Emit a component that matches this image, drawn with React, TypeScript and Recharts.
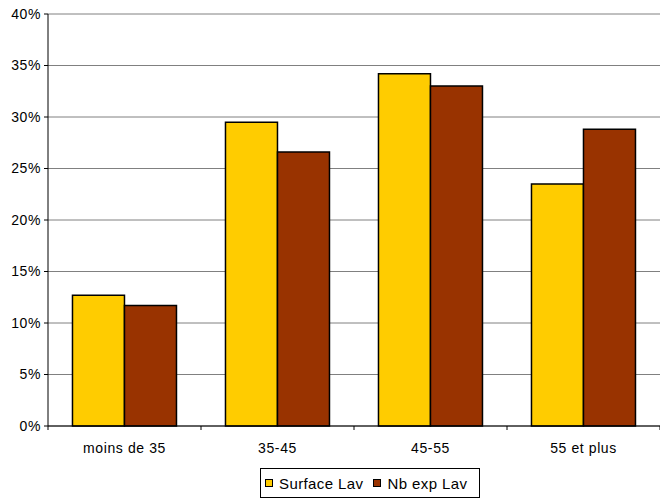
import React from "react";
import { BarChart, Bar, XAxis, YAxis, CartesianGrid, Legend } from "recharts";

const categories = ["moins de 35", "35-45", "45-55", "55 et plus"];
const surfaceLav = [12.7, 29.5, 34.2, 23.5];
const nbExpLav = [11.7, 26.6, 33.0, 28.8];
const yTicks = [0, 5, 10, 15, 20, 25, 30, 35, 40];

const data = categories.map((c, i) => ({
  name: c,
  surface: surfaceLav[i],
  nb: nbExpLav[i],
}));

const FONT = "'Liberation Sans', Arial, sans-serif";

const XTick = (props: any) => {
  const { x, y, payload, index } = props;
  const off = payload.offset || 0;
  return (
    <g>
      {index === 0 && (
        <line x1={x - off} x2={x - off} y1={y} y2={y + 4} stroke="#000" />
      )}
      <line x1={x + off} x2={x + off} y1={y} y2={y + 4} stroke="#000" />
      <text
        x={x}
        y={y + 27}
        textAnchor="middle"
        fontSize={14}
        letterSpacing={0.6}
        fontFamily={FONT}
        fill="#000"
      >
        {payload.value}
      </text>
    </g>
  );
};

const Marker = ({ color }: { color: string }) => (
  <span
    style={{
      width: 6,
      height: 6,
      background: color,
      border: "1.5px solid #000",
      display: "inline-block",
      marginRight: 6,
    }}
  />
);

const LegendContent = () => (
  <div style={{ display: "flex", justifyContent: "flex-start" }}>
    <div
      style={{
        marginLeft: 260,
        width: 220,
        height: 30,
        boxSizing: "border-box",
        border: "1px solid #000",
        display: "flex",
        alignItems: "center",
        paddingLeft: 4,
        fontFamily: FONT,
        fontSize: 15,
        letterSpacing: 0.4,
        background: "#fff",
        color: "#000",
        whiteSpace: "nowrap",
      }}
    >
      <Marker color="#FFCC00" />
      <span style={{ marginRight: 10 }}>Surface Lav</span>
      <Marker color="#993300" />
      <span>Nb exp Lav</span>
    </div>
  </div>
);

export default function App() {
  return (
    <div style={{ position: "absolute", left: 0, top: 0, background: "#fff" }}>
      <BarChart
        width={660}
        height={500}
        data={data}
        margin={{ top: 14, right: 0, left: 0, bottom: 2 }}
        barGap={0}
        barCategoryGap="16%"
      >
        <CartesianGrid vertical={false} stroke="#808080" strokeWidth={1} />
        <XAxis
          dataKey="name"
          tickLine={false}
          tickSize={0}
          tickMargin={0}
          axisLine={{ stroke: "#000" }}
          height={42}
          interval={0}
          tick={<XTick />}
        />
        <YAxis
          width={48}
          domain={[0, 40]}
          ticks={yTicks}
          tickFormatter={(v: number) => `${v}%`}
          axisLine={{ stroke: "#000" }}
          tickLine={{ stroke: "#000" }}
          tickSize={4}
          tickMargin={3}
          tick={{ fontSize: 14, fontFamily: FONT, fill: "#000", letterSpacing: 0.6 }}
        />
        <Legend verticalAlign="bottom" height={30} content={<LegendContent />} />
        <Bar
          dataKey="surface"
          name="Surface Lav"
          fill="#FFCC00"
          stroke="#000"
          strokeWidth={1.5}
          isAnimationActive={false}
        />
        <Bar
          dataKey="nb"
          name="Nb exp Lav"
          fill="#993300"
          stroke="#000"
          strokeWidth={1.5}
          isAnimationActive={false}
        />
      </BarChart>
    </div>
  );
}
